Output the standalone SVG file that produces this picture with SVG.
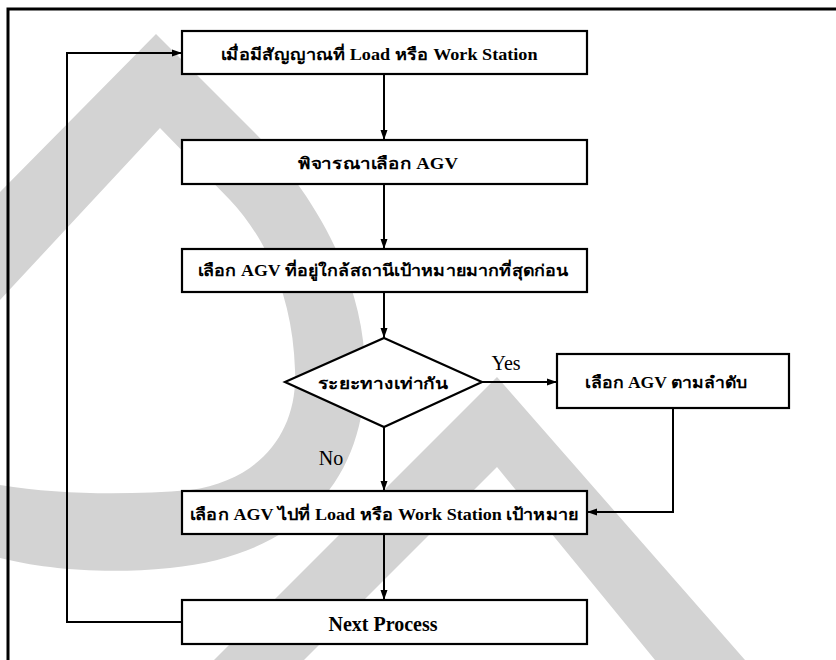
<svg xmlns="http://www.w3.org/2000/svg" width="836" height="660" viewBox="0 0 836 660">
  <defs>
    <marker id="arrow" markerUnits="userSpaceOnUse" markerWidth="11" markerHeight="9" refX="10" refY="4.5" orient="auto">
      <path d="M0,1 L10,4.5 L0,8 Z" fill="#000"/>
    </marker>
    <style>
      .mark { fill: #d3d3d3; stroke: none; }
      .box { fill: #fff; stroke: #000; stroke-width: 2.2; }
      .edge { fill: none; stroke: #000; stroke-width: 2; }
      .label { font-family: 'Liberation Serif', 'DejaVu Serif', serif; font-size: 16px; font-weight: bold; fill: #000; text-anchor: middle; }
      .tag { font-family: 'Liberation Serif', 'DejaVu Serif', serif; font-size: 20px; fill: #000; text-anchor: middle; }
    </style>
  </defs>

  <rect width="836" height="660" fill="#fff"/>

  <!-- background emblem: peaked arc on the left, open chevron below -->
  <g id="emblem">
    <path class="mark" d="M0,192 L156,34 L250,128 C310,188 368,280 365,380 C362,480 300,555 170,568 C100,575 40,568 0,558 L0,485 C60,495 130,495 190,490 C262,480 298,430 295,370 C293,300 268,240 230,200 L160,128 L0,300 Z"/>
    <polygon class="mark" points="497,377 745,660 655,660 497,467 304,660 214,660"/>
  </g>

  <!-- page frame -->
  <path d="M8,662 V9 H838" fill="none" stroke="#000" stroke-width="3"/>

  <g id="connectors">
    <line class="edge" x1="384" y1="74" x2="384" y2="140" marker-end="url(#arrow)"/>
    <line class="edge" x1="384" y1="184" x2="384" y2="249" marker-end="url(#arrow)"/>
    <line class="edge" x1="384" y1="292" x2="384" y2="338" marker-end="url(#arrow)"/>
    <line class="edge" x1="482" y1="382" x2="557" y2="382" marker-end="url(#arrow)"/>
    <polyline class="edge" points="673,408 673,512 587,512" marker-end="url(#arrow)"/>
    <line class="edge" x1="384" y1="427" x2="384" y2="491" marker-end="url(#arrow)"/>
    <line class="edge" x1="384" y1="534" x2="384" y2="600" marker-end="url(#arrow)"/>
    <polyline class="edge" points="182,622 67,622 67,53 182,53" marker-end="url(#arrow)"/>
    <text class="tag" x="506" y="370">Yes</text>
    <text class="tag" x="331" y="465">No</text>
  </g>

  <g id="signal">
    <rect class="box" x="182" y="31" width="405" height="43"/>
    <text class="label" x="379" y="60" textLength="317" lengthAdjust="spacingAndGlyphs">เมื่อมีสัญญาณที่ Load หรือ Work Station</text>
  </g>

  <g id="consider">
    <rect class="box" x="182" y="140" width="405" height="44"/>
    <text class="label" x="378" y="169" textLength="160" lengthAdjust="spacingAndGlyphs">พิจารณาเลือก AGV</text>
  </g>

  <g id="nearest">
    <rect class="box" x="182" y="249" width="405" height="43"/>
    <text class="label" x="383" y="276" textLength="371" lengthAdjust="spacingAndGlyphs">เลือก AGV ที่อยู่ใกล้สถานีเป้าหมายมากที่สุดก่อน</text>
  </g>

  <g id="equal">
    <polygon class="box" points="384,338 482,382 384,427 285,382"/>
    <text class="label" x="383" y="389" textLength="131" lengthAdjust="spacingAndGlyphs">ระยะทางเท่ากัน</text>
  </g>

  <g id="sequence">
    <rect class="box" x="557" y="354" width="232" height="54"/>
    <text class="label" x="666" y="388" textLength="162" lengthAdjust="spacingAndGlyphs">เลือก AGV ตามลำดับ</text>
  </g>

  <g id="dispatch">
    <rect class="box" x="182" y="491" width="405" height="43"/>
    <text class="label" x="384" y="520" textLength="389" lengthAdjust="spacingAndGlyphs">เลือก AGV ไปที่ Load หรือ Work Station เป้าหมาย</text>
  </g>

  <g id="next">
    <rect class="box" x="182" y="600" width="405" height="44"/>
    <text class="label" x="383" y="631" style="font-size:20px">Next Process</text>
  </g>
</svg>
